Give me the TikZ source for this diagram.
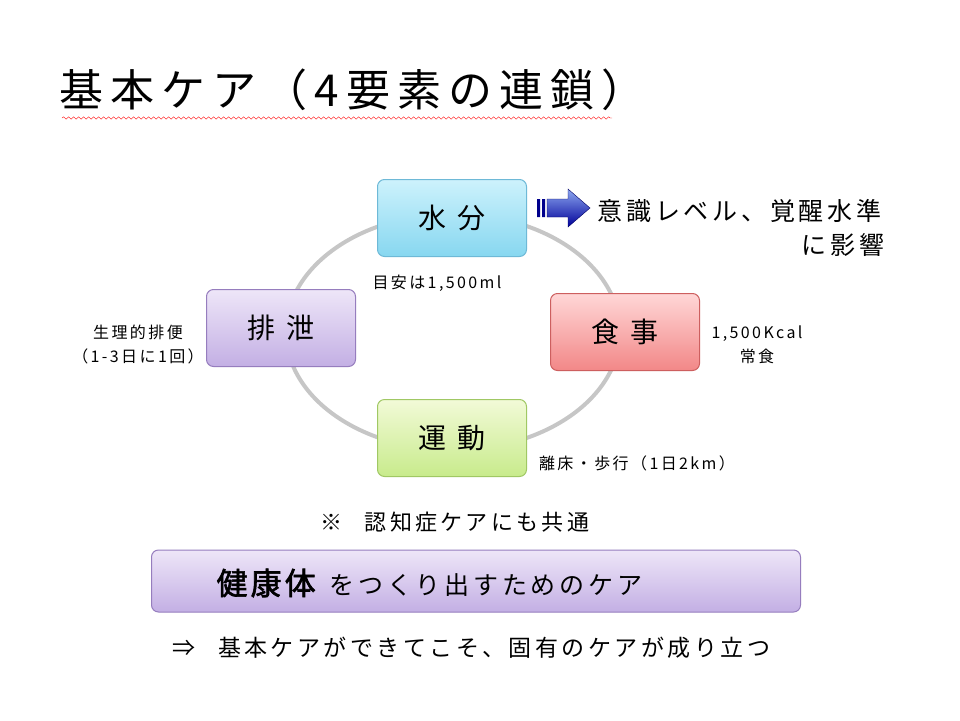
\documentclass[tikz,border=0pt]{standalone}
\usepackage{fontspec}
\setmainfont{Noto Sans CJK JP}[LetterSpace=15]
\newfontfamily\jpbold{Noto Sans CJK JP}[FakeBold=2,LetterSpace=10]
\usetikzlibrary{decorations.pathmorphing}
\definecolor{cyT}{RGB}{205,242,252}\definecolor{cyB}{RGB}{135,215,240}\definecolor{cyD}{RGB}{110,185,215}
\definecolor{puT}{RGB}{238,230,248}\definecolor{puB}{RGB}{195,175,228}\definecolor{puD}{RGB}{150,125,190}
\definecolor{reT}{RGB}{255,215,215}\definecolor{reB}{RGB}{242,135,135}\definecolor{reD}{RGB}{205,95,95}
\definecolor{grT}{RGB}{242,250,215}\definecolor{grB}{RGB}{200,235,140}\definecolor{grD}{RGB}{160,200,100}
\begin{document}
\begin{tikzpicture}[x=1pt,y=-1pt,
  box/.style args={#1/#2/#3}{draw=#3,line width=1pt,rounded corners=7pt,top color=#1,bottom color=#2,
     minimum width=149pt,minimum height=77pt,font=\fontsize{28}{30}\selectfont},
  small/.style={font=\fontsize{16}{20}\selectfont,align=center},
  mid/.style={font=\fontsize{25}{30}\selectfont}]
\useasboundingbox (0,0) rectangle (960,720);
\fill[white] (0,0) rectangle (960,720);
\node[anchor=west,font=\fontsize{44}{48}\selectfont\addfontfeature{LetterSpace=16}] (title) at (56,90) {基本ケア（4要素の連鎖）};
\draw[red,decorate,decoration={snake,amplitude=1.2pt,segment length=5pt}] (62,118) -- (612,118);
\draw[gray!45,line width=4pt] (453,332) ellipse [x radius=167,y radius=118];
\node[box=cyT/cyB/cyD] (water) at (452,218) {水\hspace{0.4em}分};
\node[box=puT/puB/puD] (excr) at (281,328) {排\hspace{0.4em}泄};
\node[box=reT/reB/reD] (food) at (625,332) {食\hspace{0.4em}事};
\node[box=grT/grB/grD] (move) at (452,438) {運\hspace{0.4em}動};
\node[small] (t1) at (437,283) {目安は1,500ml};
\node[small,font=\fontsize{16}{24}\selectfont] (t2) at (138,345) {生理的排便\\（1-3日に1回）};
\node[small,font=\fontsize{16}{24}\selectfont] (t3) at (757,345) {1,500Kcal\\常食};
\node[small] (t4) at (637,463) {離床・歩行（1日2km）};
% arrow
\fill[blue!55!black] (537,199) rectangle (540,217) (542,199) rectangle (545,217);
\shade[top color=cyD!60!blue!60,bottom color=blue!60!black,draw=blue!40!black,line width=0.4pt]
  (547,199) -- (568,199) -- (568,189) -- (590,208) -- (568,227) -- (568,217) -- (547,217) -- cycle;
\node[mid,anchor=west] (r1) at (594,211) {意識レベル、覚醒水準};
\node[mid,anchor=east] (r2) at (888,245) {に影響};
\node[font=\fontsize{22}{26}\selectfont] (note) at (455,522) {※\quad 認知症ケアにも共通};
\node[draw=puD,line width=1pt,rounded corners=7pt,top color=puT,bottom color=puB,minimum width=649pt,minimum height=62pt] (big) at (476,581) {};
\node[anchor=west] (bigtext) at (213,583) {{\jpbold\fontsize{31}{34}\selectfont 健康体}\hspace{14pt}{\fontsize{25}{30}\selectfont をつくり出すためのケア}};
\node[font=\fontsize{23}{28}\selectfont] (last) at (471,648) {⇒\quad 基本ケアができてこそ、固有のケアが成り立つ};
\end{tikzpicture}
\end{document}
